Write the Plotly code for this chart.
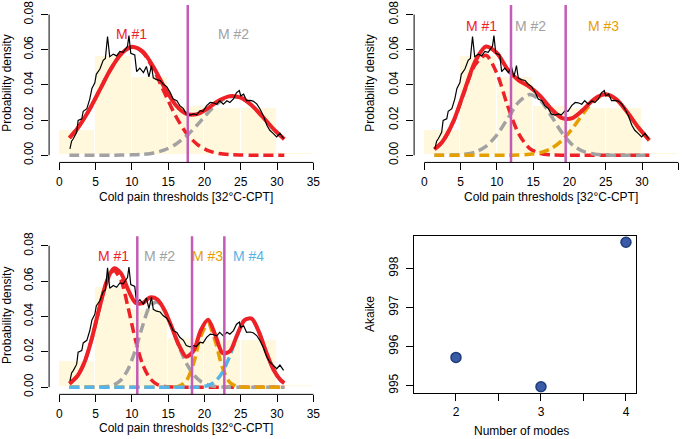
import plotly.graph_objects as go
from plotly.subplots import make_subplots

W, H = 685, 439

# histogram of cold pain thresholds (density per 5-unit bin)
bin_edges = [0, 5, 10, 15, 20, 25, 30, 35]
bin_density = [0.0145, 0.0565, 0.0442, 0.0278, 0.0267, 0.0267, 0.001]

# empirical density estimate (black line)
pde_x = [1.47, 1.7, 1.95, 2.4, 2.6, 3.1, 3.3, 3.8, 4.2, 4.5, 4.9, 5.1, 5.6, 6.05, 6.35,
         6.65, 6.95, 7.45, 7.9, 8.35, 8.8, 9.05, 9.4, 9.6, 9.85, 10.4, 10.66, 11.1, 11.6,
         12.0, 12.35, 12.7, 12.95, 13.4, 13.9, 14.3, 14.8, 15.25, 15.7, 16.2, 16.6, 17.1,
         17.5, 18.0, 18.5, 18.9, 19.4, 19.8, 20.3, 20.8, 21.2, 21.7, 22.1, 22.6, 23.1, 23.5,
         24.0, 24.4, 24.8, 25.0, 25.4, 25.8, 26.3, 26.7, 27.2, 27.65, 28.1, 28.6, 29.0, 29.5,
         29.95, 30.4, 30.9]
pde_y = [0.0036, 0.0080, 0.0095, 0.0130, 0.0198, 0.0207, 0.0250, 0.0265, 0.0319, 0.0380,
         0.0412, 0.0460, 0.0490, 0.0540, 0.0550, 0.0675, 0.0560, 0.0575, 0.0565, 0.0590,
         0.0585, 0.0600, 0.0620, 0.0680, 0.0580, 0.0570, 0.0475, 0.0495, 0.0470, 0.0505,
         0.0445, 0.0510, 0.0440, 0.0430, 0.0425, 0.0405, 0.0390, 0.0360, 0.0320, 0.0310,
         0.0282, 0.0265, 0.0235, 0.0228, 0.0235, 0.0230, 0.0254, 0.0250, 0.0282, 0.0300,
         0.0298, 0.0290, 0.0310, 0.0290, 0.0310, 0.0300, 0.0320, 0.0355, 0.0368, 0.0338,
         0.0347, 0.0310, 0.0312, 0.0308, 0.0292, 0.0263, 0.0226, 0.0170, 0.0142, 0.0123,
         0.0104, 0.0125, 0.0095]

# fitted mixtures, sampled along the threshold axis
grid_a = [1.4, 2.5, 4, 5.5, 7, 8.5, 10, 11.5, 13, 14.5, 16, 17.5, 19, 20.5, 22, 23.5, 25,
          26.5, 28, 29.5, 31]
grid_b = [1.4, 2.5, 3.5, 4.5, 5.5, 6.5, 7.5, 8.5, 9.5, 10.5, 11.5, 12.5, 13.5, 14.5, 15.5,
          16.5, 17.5, 18.5, 19.5, 20.5, 21.5, 22.5, 23.5, 24.5, 25.5, 26.5, 27.5, 28.5, 29.5,
          30.5, 31]

# two modes
two_m1 = [0.0099, 0.0152, 0.0248, 0.0365, 0.0483, 0.0574, 0.0615, 0.0585, 0.0487, 0.0355,
          0.0226, 0.0126, 0.0062, 0.0026, 0.0010, 0.0003, 0.0001, 0, 0, 0, 0]
two_m2 = [0, 0, 0, 0, 0, 0.0001, 0.0002, 0.0005, 0.0013, 0.0030, 0.0061, 0.0109, 0.0172,
          0.0242, 0.0301, 0.0333, 0.0326, 0.0284, 0.0219, 0.0150, 0.0091]
two_sum = [0.0099, 0.0152, 0.0248, 0.0365, 0.0483, 0.0575, 0.0617, 0.0590, 0.0500, 0.0385,
           0.0287, 0.0235, 0.0234, 0.0268, 0.0311, 0.0336, 0.0327, 0.0284, 0.0219, 0.0150,
           0.0091]
two_bounds = [17.7]
two_label_x = [10.0, 24.0]

# three modes
three_m1 = [0.0034, 0.0077, 0.0190, 0.0358, 0.0515, 0.0568, 0.0466, 0.0279, 0.0123, 0.0039,
            0.0009, 0.0002, 0, 0, 0, 0, 0, 0, 0, 0, 0]
three_m2 = [0, 0, 0.0001, 0.0005, 0.0017, 0.0050, 0.0115, 0.0209, 0.0302, 0.0345, 0.0312,
            0.0223, 0.0126, 0.0056, 0.0020, 0.0006, 0.0001, 0, 0, 0, 0]
three_m3 = [0, 0, 0, 0, 0, 0, 0, 0, 0.0001, 0.0005, 0.0015, 0.0038, 0.0085, 0.0157, 0.0243,
            0.0316, 0.0345, 0.0316, 0.0243, 0.0157, 0.0085]
three_sum = [0.0034, 0.0077, 0.0191, 0.0363, 0.0532, 0.0618, 0.0581, 0.0488, 0.0426, 0.0389,
             0.0336, 0.0263, 0.0211, 0.0213, 0.0263, 0.0322, 0.0346, 0.0316, 0.0243, 0.0157,
             0.0085]
three_bounds = [11.95, 19.48]
three_label_x = [7.9, 14.7, 24.7]

# four modes
four_m1 = [0.0020, 0.0063, 0.0144, 0.0277, 0.0443, 0.0591, 0.0660, 0.0605, 0.0447, 0.0266,
           0.0127, 0.0049, 0.0015, 0.0004, 0.0001, 0, 0, 0, 0, 0, 0, 0, 0, 0, 0, 0, 0, 0,
           0, 0, 0]
four_m2 = [0, 0, 0, 0, 0.0001, 0.0003, 0.0012, 0.0040, 0.0103, 0.0212, 0.0349, 0.0459,
           0.0482, 0.0432, 0.0337, 0.0230, 0.0136, 0.0071, 0.0032, 0.0013, 0.0004, 0.0001,
           0, 0, 0, 0, 0, 0, 0, 0, 0]
four_m3 = [0, 0, 0, 0, 0, 0, 0, 0, 0, 0, 0, 0, 0, 0, 0.0001, 0.0006, 0.0036, 0.0134, 0.0288,
           0.0359, 0.0258, 0.0107, 0.0026, 0.0004, 0, 0, 0, 0, 0, 0, 0]
four_m4 = [0, 0, 0, 0, 0, 0, 0, 0, 0, 0, 0, 0, 0, 0, 0, 0, 0, 0, 0.0002, 0.0009, 0.0032,
           0.0085, 0.0177, 0.0291, 0.0378, 0.0388, 0.0313, 0.0199, 0.0100, 0.0039, 0.0023]
four_sum = [0.0020, 0.0063, 0.0144, 0.0277, 0.0444, 0.0594, 0.0672, 0.0645, 0.0550, 0.0478,
            0.0476, 0.0508, 0.0497, 0.0436, 0.0339, 0.0236, 0.0172, 0.0205, 0.0322, 0.0381,
            0.0294, 0.0193, 0.0203, 0.0295, 0.0378, 0.0388, 0.0313, 0.0199, 0.0100, 0.0039,
            0.0023]
four_bounds = [10.75, 18.29, 22.74]
four_label_x = [7.45, 13.8, 20.45, 26.05]

# model selection
n_modes = [2, 3, 4]
akaike = [995.72, 994.97, 998.67]

RED = '#EE2226'
MODE_COLORS = [RED, '#A2A2A2', '#E69F00', '#56B4E9']
MAGENTA = '#C35CB6'
CORNSILK = '#FFF8DC'
FONT = 'Liberation Sans, Arial, Helvetica, sans-serif'
X_TITLE = 'Cold pain thresholds [32°C-CPT]'


def px(x):
    return x / W


def py(y):
    return 1 - y / H


def axis_names(row, col):
    idx = (row - 1) * 2 + col
    s = '' if idx == 1 else str(idx)
    return 'x' + s, 'y' + s


def add_density_panel(fig, row, col, grid, comps, total, bounds, label_x, label_y):
    xa, ya = axis_names(row, col)
    mids = [(a + b) / 2 for a, b in zip(bin_edges[:-1], bin_edges[1:])]
    widths = [b - a for a, b in zip(bin_edges[:-1], bin_edges[1:])]
    fig.add_trace(go.Bar(x=mids, y=bin_density, width=widths,
                         marker=dict(color=CORNSILK, line=dict(color='white', width=1))),
                  row=row, col=col)
    for k, comp in enumerate(comps):
        fig.add_trace(go.Scatter(x=grid, y=comp, mode='lines',
                                 line=dict(color=MODE_COLORS[k], width=3.5, dash='10px,5px',
                                           shape='spline', smoothing=0.8)),
                      row=row, col=col)
    fig.add_trace(go.Scatter(x=grid, y=total, mode='lines',
                             line=dict(color=RED, width=4, shape='spline', smoothing=0.8)),
                  row=row, col=col)
    fig.add_trace(go.Scatter(x=pde_x, y=pde_y, mode='lines',
                             line=dict(color='black', width=1.2)),
                  row=row, col=col)
    for b in bounds:
        fig.add_shape(type='line', xref=xa, yref=ya + ' domain', x0=b, x1=b, y0=0, y1=1,
                      line=dict(color=MAGENTA, width=2.5), layer='above')
    for k, lx in enumerate(label_x):
        fig.add_annotation(x=lx, y=label_y, xref=xa, yref=ya, text=f'M #{k + 1}',
                           showarrow=False, font=dict(size=14, color=MODE_COLORS[k]))

    # R-style detached axis lines
    fig.add_shape(type='line', xref=xa, yref=ya + ' domain', x0=0, x1=35, y0=0, y1=0,
                  line=dict(color='black', width=1))
    fig.add_shape(type='line', xref=xa + ' domain', yref=ya, x0=0, x1=0, y0=0, y1=0.08,
                  line=dict(color='black', width=1))


fig = make_subplots(rows=2, cols=2)

add_density_panel(fig, 1, 1, grid_a, [two_m1, two_m2], two_sum, two_bounds,
                  two_label_x, 0.0692)
add_density_panel(fig, 1, 2, grid_a, [three_m1, three_m2, three_m3], three_sum,
                  three_bounds, three_label_x, 0.0733)
add_density_panel(fig, 2, 1, grid_b, [four_m1, four_m2, four_m3, four_m4], four_sum,
                  four_bounds, four_label_x, 0.0743)

fig.add_trace(go.Scatter(x=n_modes, y=akaike, mode='markers',
                         marker=dict(size=10, color='#3A5CA8',
                                     line=dict(color='#1F3B78', width=1.5))),
              row=2, col=2)

tick_font = dict(size=12, color='black', family=FONT)
dens_x = dict(range=[-1.4, 36.4], tickvals=[0, 5, 10, 15, 20, 25, 30, 35], ticks='outside',
              ticklen=7, tickcolor='black', showline=False, showgrid=False, zeroline=False,
              tickfont=tick_font, ticklabelstandoff=1)
dens_y = dict(range=[-0.0041, 0.0854], tickvals=[0, 0.02, 0.04, 0.06, 0.08],
              tickformat='.2f', tickangle=-90, ticks='outside', ticklen=7, tickcolor='black',
              showline=False, showgrid=False, zeroline=False, tickfont=tick_font,
              ticklabelstandoff=3)

fig.update_layout(
    xaxis=dict(dens_x, domain=[px(49.1), px(323.5)]),
    yaxis=dict(dens_y, domain=[py(161.0), py(1.05)]),
    xaxis2=dict(dens_x, domain=[px(414.1), 1.0], range=[-1.4, 35.92]),
    yaxis2=dict(dens_y, domain=[py(161.0), py(1.05)]),
    xaxis3=dict(dens_x, domain=[px(49.1), px(323.5)]),
    yaxis3=dict(dens_y, domain=[py(396.7), py(236.0)]),
    xaxis4=dict(domain=[px(414), px(636)], range=[1.506, 4.118],
                tickvals=[1.5, 2, 2.5, 3, 3.5, 4], ticktext=['', '2', '', '3', '', '4'],
                ticks='outside', ticklen=7, tickcolor='black', showline=True, mirror=True,
                linecolor='black', linewidth=1, showgrid=False, zeroline=False,
                tickfont=tick_font, ticklabelstandoff=1),
    yaxis4=dict(domain=[py(395), py(235.7)], range=[994.816, 998.832],
                tickvals=[995, 996, 997, 998], tickangle=-90, ticks='outside', ticklen=7,
                tickcolor='black', showline=True, mirror=True, linecolor='black',
                linewidth=1, showgrid=False, zeroline=False, tickfont=tick_font,
                ticklabelstandoff=3),
)

titles = [
    ('Probability density', 7, 81, -90),
    (X_TITLE, 186.3, 196, 0),
    ('Probability density', 370, 81, -90),
    (X_TITLE, 551.3, 196, 0),
    ('Probability density', 7, 317, -90),
    (X_TITLE, 186.3, 431, 0),
    ('Akaike', 370, 315, -90),
    ('Number of modes', 521, 434, 0),
]
for text, tx, ty, ang in titles:
    fig.add_annotation(x=px(tx), y=py(ty), xref='paper', yref='paper', text=text,
                       showarrow=False, textangle=ang, xanchor='center', yanchor='middle',
                       font=dict(size=12, color='black', family=FONT))

fig.update_layout(
    width=W, height=H, margin=dict(l=0, r=0, t=0, b=0),
    showlegend=False, bargap=0,
    plot_bgcolor='white', paper_bgcolor='white',
    font=dict(family=FONT, color='black'),
)

fig.write_html('out.html', config={'displayModeBar': False},
               post_script="document.body.style.margin='0';")
